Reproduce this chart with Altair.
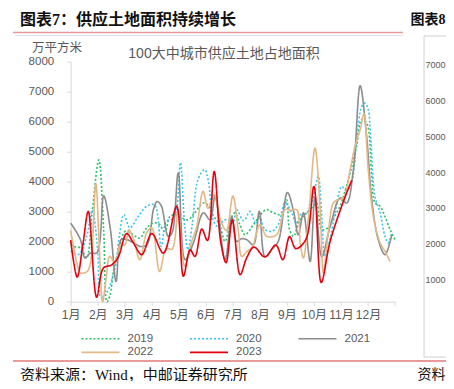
import altair as alt
import pandas as pd

# ---------------- data ----------------
years = ["2019", "2020", "2021", "2022", "2023"]
legend_order = ["2019", "2022", "2020", "2023", "2021"]   # column-major fill -> rows 2019/2020/2021, 2022/2023

m2019 = [1.00, 1.11, 1.36, 1.59, 1.79, 2.04, 2.22, 2.34, 2.45, 2.59, 2.80, 3.01, 3.20, 3.39, 3.56,
         3.81, 4.06, 4.25, 4.49, 4.67, 4.92, 5.10, 5.34, 5.59, 5.91, 6.10, 6.30, 6.50, 6.71, 6.96,
         7.08, 7.25, 7.45, 7.76, 7.97, 8.25, 8.50, 8.81, 8.99, 9.10, 9.25, 9.45, 9.60, 9.98, 10.10,
         10.29, 10.50, 10.72, 10.97, 11.09, 11.34, 11.58, 11.77, 11.95, 12.14, 12.26, 12.45, 12.63, 12.82, 13.00]
v2019 = [1900, 1840, 1790, 1460, 2960, 4730, 2400, 0, 200, 1070, 1800, 2340, 2300, 2180, 2120,
         2460, 2620, 2600, 2340, 2840, 2900, 2800, 2730, 2960, 3290, 3200, 2840, 2600, 2010, 2840,
         2960, 2600, 2230, 2570, 2840, 3070, 2960, 2900, 3400, 2400, 2180, 2680, 2840, 3180, 3290,
         2400, 2450, 2790, 3180, 3510, 4290, 5180, 6070, 5960, 4180, 3290, 3180, 2840, 2400, 2070]

m2020 = [1.00, 1.28, 1.59, 1.80, 2.00, 2.12, 2.33, 2.64, 2.80, 2.97, 3.19, 3.50, 3.81, 4.10, 4.35,
         4.54, 4.75, 4.90, 5.06, 5.22, 5.34, 5.50, 5.71, 5.96, 6.10, 6.27, 6.45, 6.70, 6.90, 7.02,
         7.14, 7.40, 7.64, 7.85, 8.00, 8.19, 8.45, 8.68, 8.93, 9.18, 9.35, 9.50, 9.73, 9.95, 10.16,
         10.28, 10.41, 10.60, 10.78, 11.03, 11.20, 11.40, 11.58, 11.77, 11.89, 12.01, 12.10, 12.26,
         12.45, 12.63, 12.75, 12.88]
v2020 = [1700, 1570, 2180, 3050, 1700, 150, 300, 1120, 2200, 2900, 2460, 2840, 3180, 3230, 1840,
         2680, 2750, 3000, 4640, 2510, 1730, 2600, 4070, 4400, 4000, 2730, 2500, 2730, 2700, 2620,
         3070, 2700, 3010, 2600, 2800, 2400, 2350, 2570, 3290, 2960, 2600, 2900, 2960, 3400, 4180,
         3000, 1510, 2100, 2960, 3840, 3700, 4000, 5400, 6510, 6620, 6400, 5500, 3510,
         2960, 2180, 1960, 2290]

m2021 = [1.00, 1.36, 1.53, 1.73, 1.97, 2.22, 2.47, 2.68, 2.87, 3.08, 3.33, 3.58, 3.82, 4.07, 4.20,
         4.35, 4.61, 4.75, 4.98, 5.23, 5.54, 5.91, 6.16, 6.34, 6.71, 6.96, 7.14, 7.33, 7.51, 7.76,
         7.98, 8.19, 8.45, 8.68, 9.02, 9.25, 9.42, 9.61, 9.86, 10.04, 10.29, 10.60, 10.97, 11.21, 11.46,
         11.71, 11.95, 12.14, 12.38, 12.63, 12.88]
v2021 = [2620, 2070, 1460, 1620, 1630, 3530, 2400, 680, 2070, 2070, 1960, 1840, 1900, 3100, 3340,
         3200, 2180, 2300, 4290, 1400, 1960, 2960, 2730, 3510, 1400, 2840, 2010, 2100, 2070, 1900,
         3010, 1510, 1750, 2010, 3640, 3000, 2230, 2960, 1340, 3480, 1500, 2510, 3460, 3290, 4400,
         7200, 5510, 3400, 2070, 1570, 2230]

m2022 = [1.00, 1.23, 1.36, 1.60, 1.73, 1.93, 2.05, 2.18, 2.30, 2.45, 2.64, 2.84, 3.01, 3.15, 3.32,
         3.56, 3.81, 4.00, 4.29, 4.54, 4.75, 4.97, 5.09, 5.22, 5.46, 5.66, 5.90, 6.08, 6.31, 6.55,
         6.76, 7.00, 7.20, 7.33, 7.55, 7.70, 8.01, 8.25, 8.62, 8.93, 9.15, 9.36, 9.50, 9.61, 9.79,
         10.04, 10.23, 10.35, 10.53, 10.72, 10.90, 11.09, 11.34, 11.52, 11.71, 11.85, 12.01, 12.20,
         12.45, 12.63, 12.82]
v2022 = [2370, 1290, 960, 1000, 1290, 3930, 2000, 0, 700, 1510, 1290, 1900, 1900, 2400, 2100,
         1400, 2290, 2460, 1010, 1780, 1750, 3070, 1840, 1180, 1960, 2500, 3680, 3120, 3570, 2700,
         2370, 3520, 2400, 1510, 1700, 1790, 2570, 2180, 2230, 3070, 3050, 3070, 1900, 1460, 2730,
         5120, 3070, 960, 2290, 3290, 3400, 3450, 4400, 5180, 5730, 6260, 4400, 2840,
         1960, 1680, 1340]

m2023 = [1.00, 1.24, 1.45, 1.65, 1.96, 2.21, 2.52, 2.76, 3.07, 3.32, 3.63, 4.00, 4.43, 4.92, 5.17,
         5.42, 5.60, 5.85, 6.06, 6.31, 6.55, 6.75, 6.98, 7.27, 7.51, 7.78, 8.19, 8.59, 8.85, 9.10,
         9.33, 9.70, 10.00, 10.27, 10.60, 11.09, 11.40]
v2023 = [2050, 820, 1900, 3010, 150, 1120, 1230, 1490, 2270, 1960, 1570, 2270, 1620, 3180, 850,
         1730, 1510, 2420, 2040, 4340, 2000, 1300, 2730, 900, 1460, 1820, 1490, 1890, 1400, 2170,
         1770, 2070, 3840, 640, 2010, 3340, 4050]

y_ticks = [0, 1000, 2000, 3000, 4000, 5000, 6000, 7000, 8000]
x_ticks = [1, 2, 3, 4, 5, 6, 7, 8, 9, 10, 11, 12, 13]
right_ticks = [1000, 2000, 3000, 4000, 5000, 6000, 7000]

series = {"2019": (m2019, v2019), "2020": (m2020, v2020), "2021": (m2021, v2021),
          "2022": (m2022, v2022), "2023": (m2023, v2023)}
rows = []
for yr, (ms, vs) in series.items():
    for a, b in zip(ms, vs):
        rows.append({"年份": yr, "月": a, "面积": b})
df = pd.DataFrame(rows)

# ---------------- styling ----------------
colors = ["#2bbf66", "#3cc4f0", "#8c8c8c", "#e3b887", "#e3000f"]
dashes = [[2, 2], [2, 2], [1, 0], [1, 0], [1, 0]]
widths = [1.6, 1.6, 2.0, 2.0, 2.4]
SANS = "'Liberation Sans', 'Noto Sans CJK SC'"
SERIF = "'Liberation Serif', 'Noto Sans CJK SC'"
GREY = "#595959"
AX = "#d9d9d9"

OX, OY = 70.7, 61.7      # page position of plot origin
W, H = 324.3, 240
CW, CH = 438, 373        # canvas size (fits the 454x389 window with its 8px margin)

leg = alt.Legend(orient="none", legendX=9.8, legendY=270.0, columns=3, columnPadding=35.5,
                 rowPadding=0, clipHeight=13.3, symbolType="stroke", symbolSize=1444,
                 labelFontSize=11.5, labelColor=GREY, labelFont=SANS, labelOffset=7,
                 title=None, padding=0, values=legend_order)

lines = alt.Chart(df).mark_line(interpolate="catmull-rom", strokeJoin="round").encode(
    x=alt.X("月:Q", scale=alt.Scale(domain=[1, 13], nice=False, zero=False),
            axis=alt.Axis(values=x_ticks, labelExpr="datum.value < 13 ? datum.value + '月' : ''",
                          title=None, grid=False, domainColor=AX, tickColor=AX, tickSize=4,
                          labelFontSize=12, labelColor=GREY, labelFont=SANS, labelPadding=4,
                          labelOverlap=False, labelFlush=False, labelBound=False)),
    y=alt.Y("面积:Q", scale=alt.Scale(domain=[0, 8000], nice=False),
            axis=alt.Axis(values=y_ticks, format="d", title=None, grid=False, domainColor=AX,
                          tickColor=AX, tickSize=4, labelFontSize=11.5, labelColor=GREY,
                          labelFont=SANS, labelPadding=13, labelOverlap=False)),
    color=alt.Color("年份:O", scale=alt.Scale(domain=years, range=colors), legend=leg),
    strokeDash=alt.StrokeDash("年份:O", scale=alt.Scale(domain=years, range=dashes), legend=leg),
    strokeWidth=alt.StrokeWidth("年份:O", scale=alt.Scale(domain=years, range=widths), legend=leg),
)

# tick labels of the neighbouring (cropped) chart, shrunk so they stay whole at the page edge
right_labels = alt.Chart(pd.DataFrame({"v": right_ticks})).mark_text(
    align="right", baseline="middle", fontSize=9, color=GREY, font=SANS).encode(
    x=alt.value(445.5 - OX),
    y=alt.Y("v:Q", scale=alt.Scale(domain=[0, 7000], range=[254.2, 3.3]), axis=None),
    text=alt.Text("v:Q", format="d"))

one = pd.DataFrame({"k": [0]})


def txt(s, px, py, size, color="#000000", weight="normal", align="left", font=SANS):
    return alt.Chart(one).mark_text(text=s, align=align, baseline="middle", fontSize=size,
                                    color=color, fontWeight=weight, font=font).encode(
        x=alt.value(px - OX), y=alt.value(py - OY))


def hrule(x1, x2, py, color, w):
    return alt.Chart(one).mark_rule(color=color, strokeWidth=w).encode(
        x=alt.value(x1 - OX), x2=alt.value(x2 - OX), y=alt.value(py - OY))


def vrule(px, y1, y2, color, w):
    return alt.Chart(one).mark_rule(color=color, strokeWidth=w).encode(
        x=alt.value(px - OX), y=alt.value(y1 - OY), y2=alt.value(y2 - OY))


annots = [
    txt("图表7：供应土地面积持续增长", 20, 19.5, 16, "#111111", "bold", font=SERIF),
    txt("图表8", 445.5, 19.5, 14, "#111111", "bold", align="right", font=SERIF),
    txt("100大中城市供应土地占地面积", 224, 53.5, 14, GREY, align="center"),
    txt("万平方米", 32, 47.5, 12.5, GREY),
    txt("资料来源：Wind，中邮证券研究所", 20, 374.5, 15, "#111111", font=SERIF),
    txt("资料", 445.5, 374.5, 14, "#111111", align="right", font=SERIF),
    hrule(13, 403, 32.5, "#e89a9a", 1.5),
    hrule(15, 403, 35.5, "#e3e3e3", 1),
    hrule(424, 460, 36, "#d0d0d0", 1),
    vrule(424, 36, 357, "#d0d0d0", 1),
    hrule(424, 460, 357, "#d0d0d0", 1),
    hrule(13, 460, 361, "#e89a9a", 2),
]

chart = alt.layer(lines, right_labels, *annots).resolve_scale(y="independent").properties(
    width=W, height=H,
    autosize=alt.AutoSizeParams(type="none"),
    padding={"left": OX - 8, "top": OY - 8, "right": CW - (OX - 8) - W,
             "bottom": CH - (OY - 8) - H},
    background="white",
).configure_view(stroke=None)

chart.save("out.html", embed_options={"renderer": "svg", "actions": False})
